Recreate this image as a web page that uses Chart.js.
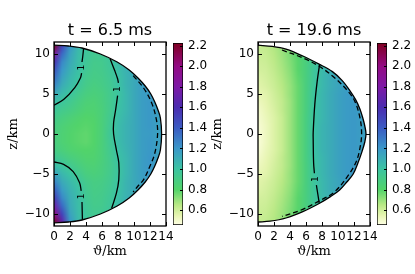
<!DOCTYPE html>
<html>
<head>
<meta charset="utf-8">
<script src="https://cdn.jsdelivr.net/npm/chart.js@4.4.1/dist/chart.umd.min.js"></script>
<style>
  body { margin: 0; background: #fff; }
  #wrap { position: relative; width: 415px; height: 274px; overflow: hidden; }
  canvas { position: absolute; top: 0; }
</style>
</head>
<body>
<div id="wrap">
  <canvas id="cb1" width="42" height="274" style="left:173px"></canvas>
  <canvas id="cb2" width="38" height="274" style="left:377px"></canvas>
  <canvas id="p1" width="200" height="274" style="left:0px"></canvas>
  <canvas id="p2" width="200" height="274" style="left:204px"></canvas>
</div>
<script>
// axes
const xTicks = [0, 2, 4, 6, 8, 10, 12, 14];
const zTicks = [-10, -5, 0, 5, 10];
const cbTicks = [0.6, 0.8, 1.0, 1.2, 1.4, 1.6, 1.8, 2.0, 2.2];
const cbMin = 0.455, cbMax = 2.225;

// colour map
const cmapVals = [0.45, 0.55, 0.65, 0.8, 1.0, 1.2, 1.4, 1.6, 1.8, 2.0, 2.23];
const cmapColors = ['#ffffe5', '#e6f5b0', '#b9e985', '#52d46a', '#3cc4a2', '#3a97c9',
                    '#3b5bc3', '#4b2cb0', '#7e19a6', '#930b84', '#7f0020'];

// heat map grid (columns = heatX, rows = heatZ from top)
const heatX = [0, 1, 2, 3, 4, 5, 6, 7, 8, 9, 10, 11, 12, 13, 14];
const heatZ = [11, 10, 9, 8, 7, 6, 5, 4, 3, 2, 1, 0, -1, -2, -3, -4, -5, -6, -7, -8, -9, -10, -11];

// t = 6.5 ms
const heat1 = [
  [2.2, 1.5, 1.2, 1.06, 0.98, 0.95, 0.96, 1.0, 1.05, 1.1, 1.12, 1.12, 1.12, 1.12, 1.12],
  [1.85, 1.35, 1.15, 1.04, 0.97, 0.94, 0.95, 0.98, 1.04, 1.09, 1.12, 1.13, 1.13, 1.13, 1.13],
  [1.6, 1.25, 1.12, 1.03, 0.96, 0.92, 0.93, 0.97, 1.03, 1.08, 1.12, 1.14, 1.14, 1.14, 1.14],
  [1.45, 1.2, 1.09, 1.02, 0.95, 0.91, 0.92, 0.96, 1.02, 1.08, 1.12, 1.15, 1.15, 1.15, 1.15],
  [1.35, 1.15, 1.06, 1.0, 0.93, 0.9, 0.91, 0.95, 1.01, 1.07, 1.12, 1.16, 1.16, 1.15, 1.15],
  [1.25, 1.1, 1.03, 0.97, 0.91, 0.88, 0.9, 0.94, 1.0, 1.07, 1.12, 1.17, 1.17, 1.15, 1.15],
  [1.12, 1.04, 0.99, 0.93, 0.88, 0.86, 0.88, 0.93, 0.99, 1.06, 1.12, 1.17, 1.18, 1.15, 1.15],
  [1.03, 0.98, 0.94, 0.89, 0.85, 0.84, 0.87, 0.93, 1.0, 1.06, 1.12, 1.17, 1.19, 1.16, 1.15],
  [0.97, 0.93, 0.9, 0.86, 0.83, 0.83, 0.86, 0.93, 1.01, 1.06, 1.12, 1.17, 1.19, 1.16, 1.15],
  [0.92, 0.88, 0.85, 0.82, 0.8, 0.81, 0.86, 0.94, 1.02, 1.07, 1.12, 1.17, 1.19, 1.16, 1.15],
  [0.89, 0.85, 0.82, 0.8, 0.79, 0.8, 0.86, 0.95, 1.03, 1.08, 1.12, 1.17, 1.19, 1.16, 1.15],
  [0.88, 0.84, 0.81, 0.79, 0.78, 0.8, 0.86, 0.96, 1.03, 1.08, 1.12, 1.17, 1.18, 1.16, 1.15],
  [0.88, 0.84, 0.81, 0.79, 0.78, 0.8, 0.86, 0.95, 1.03, 1.08, 1.12, 1.17, 1.19, 1.16, 1.15],
  [0.9, 0.86, 0.83, 0.81, 0.8, 0.81, 0.86, 0.94, 1.02, 1.07, 1.12, 1.17, 1.19, 1.16, 1.15],
  [0.96, 0.92, 0.88, 0.85, 0.82, 0.82, 0.86, 0.93, 1.01, 1.06, 1.12, 1.17, 1.2, 1.16, 1.15],
  [1.04, 0.99, 0.94, 0.89, 0.85, 0.84, 0.87, 0.92, 0.99, 1.06, 1.12, 1.17, 1.2, 1.16, 1.15],
  [1.15, 1.06, 1.0, 0.94, 0.88, 0.86, 0.88, 0.93, 0.99, 1.06, 1.12, 1.17, 1.19, 1.15, 1.15],
  [1.27, 1.12, 1.05, 0.99, 0.92, 0.89, 0.9, 0.94, 1.0, 1.07, 1.12, 1.16, 1.17, 1.15, 1.15],
  [1.4, 1.18, 1.08, 1.02, 0.94, 0.9, 0.91, 0.95, 1.01, 1.07, 1.12, 1.15, 1.15, 1.15, 1.15],
  [1.55, 1.25, 1.1, 1.03, 0.95, 0.91, 0.92, 0.96, 1.02, 1.08, 1.12, 1.14, 1.14, 1.14, 1.14],
  [1.75, 1.35, 1.12, 1.03, 0.96, 0.92, 0.93, 0.97, 1.03, 1.08, 1.12, 1.13, 1.13, 1.13, 1.13],
  [2.0, 1.5, 1.15, 1.04, 0.97, 0.94, 0.95, 0.98, 1.04, 1.09, 1.12, 1.12, 1.12, 1.12, 1.12],
  [2.2, 1.7, 1.2, 1.05, 0.98, 0.95, 0.96, 1.0, 1.05, 1.1, 1.12, 1.12, 1.12, 1.12, 1.12]
];

// t = 19.6 ms
const heat2 = [
  [0.62, 0.63, 0.66, 0.7, 0.74, 0.8, 0.88, 0.96, 1.03, 1.08, 1.12, 1.14, 1.15, 1.15, 1.15],
  [0.61, 0.62, 0.65, 0.69, 0.74, 0.8, 0.88, 0.96, 1.03, 1.08, 1.12, 1.14, 1.15, 1.15, 1.15],
  [0.6, 0.61, 0.64, 0.68, 0.73, 0.79, 0.87, 0.96, 1.04, 1.09, 1.13, 1.15, 1.16, 1.15, 1.15],
  [0.59, 0.6, 0.63, 0.67, 0.72, 0.79, 0.87, 0.97, 1.04, 1.09, 1.13, 1.16, 1.17, 1.16, 1.15],
  [0.57, 0.59, 0.62, 0.66, 0.71, 0.78, 0.87, 0.97, 1.05, 1.1, 1.14, 1.17, 1.18, 1.17, 1.16],
  [0.56, 0.58, 0.61, 0.65, 0.7, 0.77, 0.87, 0.98, 1.05, 1.1, 1.14, 1.17, 1.18, 1.17, 1.16],
  [0.54, 0.56, 0.6, 0.64, 0.7, 0.77, 0.87, 0.99, 1.06, 1.11, 1.15, 1.18, 1.19, 1.17, 1.16],
  [0.52, 0.55, 0.59, 0.63, 0.69, 0.77, 0.87, 0.99, 1.06, 1.11, 1.15, 1.18, 1.19, 1.17, 1.16],
  [0.5, 0.54, 0.58, 0.63, 0.69, 0.77, 0.87, 1.0, 1.06, 1.11, 1.15, 1.18, 1.19, 1.17, 1.16],
  [0.49, 0.53, 0.57, 0.62, 0.69, 0.77, 0.88, 1.0, 1.06, 1.11, 1.15, 1.18, 1.19, 1.17, 1.16],
  [0.48, 0.52, 0.57, 0.62, 0.69, 0.77, 0.88, 1.01, 1.07, 1.11, 1.15, 1.18, 1.19, 1.17, 1.16],
  [0.47, 0.52, 0.57, 0.62, 0.69, 0.77, 0.88, 1.01, 1.07, 1.11, 1.15, 1.18, 1.19, 1.17, 1.16],
  [0.47, 0.52, 0.57, 0.62, 0.69, 0.77, 0.88, 1.01, 1.07, 1.11, 1.15, 1.18, 1.19, 1.17, 1.16],
  [0.48, 0.53, 0.57, 0.62, 0.69, 0.77, 0.88, 1.01, 1.07, 1.11, 1.15, 1.18, 1.19, 1.17, 1.16],
  [0.5, 0.54, 0.58, 0.63, 0.69, 0.77, 0.88, 1.0, 1.06, 1.11, 1.15, 1.18, 1.19, 1.17, 1.16],
  [0.52, 0.55, 0.59, 0.63, 0.69, 0.77, 0.87, 0.99, 1.06, 1.11, 1.15, 1.18, 1.19, 1.17, 1.16],
  [0.54, 0.56, 0.6, 0.64, 0.7, 0.77, 0.87, 0.99, 1.06, 1.11, 1.15, 1.18, 1.19, 1.17, 1.16],
  [0.56, 0.58, 0.61, 0.65, 0.7, 0.77, 0.87, 0.98, 1.05, 1.1, 1.14, 1.17, 1.18, 1.17, 1.16],
  [0.57, 0.59, 0.62, 0.66, 0.71, 0.78, 0.87, 0.97, 1.05, 1.1, 1.14, 1.17, 1.18, 1.17, 1.16],
  [0.59, 0.6, 0.63, 0.67, 0.72, 0.79, 0.87, 0.97, 1.04, 1.09, 1.13, 1.16, 1.17, 1.16, 1.15],
  [0.6, 0.61, 0.64, 0.68, 0.73, 0.79, 0.87, 0.96, 1.04, 1.09, 1.13, 1.15, 1.16, 1.15, 1.15],
  [0.61, 0.62, 0.65, 0.69, 0.74, 0.8, 0.88, 0.96, 1.03, 1.08, 1.12, 1.14, 1.15, 1.15, 1.15],
  [0.62, 0.63, 0.66, 0.7, 0.74, 0.8, 0.88, 0.96, 1.03, 1.08, 1.12, 1.14, 1.15, 1.15, 1.15]
];

// star surface
const bnd1X = [0, 1.8, 3.5, 5.8, 7.9, 9.4, 10.5, 11.4, 12.1, 12.6, 13.0, 13.3, 13.45, 13.3, 13.0, 12.6, 12.1, 11.4, 10.5, 9.4, 7.9, 5.8, 3.5, 1.8, 0];
const bnd1Z = [11.1, 11.0, 10.75, 10.0, 9.0, 8.0, 7.0, 6.0, 5.0, 4.0, 3.0, 2.0, 0, -2.0, -3.0, -4.0, -5.0, -6.0, -7.0, -8.0, -9.0, -10.0, -10.75, -11.0, -11.1];
const bnd2X = [0, 1.8, 3.5, 5.6, 7.7, 9.3, 10.5, 11.5, 12.2, 12.75, 13.1, 13.35, 13.5, 13.35, 13.0, 12.5, 11.9, 11.1, 10.2, 9.1, 7.7, 5.6, 3.5, 1.5, 0];
const bnd2Z = [11.1, 10.95, 10.6, 9.75, 8.7, 7.8, 6.7, 5.4, 4.3, 3.1, 2.0, 1.0, 0, -1.0, -2.2, -3.6, -5.0, -6.0, -7.0, -7.8, -8.65, -9.7, -10.5, -10.9, -11.0];

// contour level 1 (null = gap for label)
const cA1X = [0, 1.2, 2.6, 3.3, 3.45, null, 3.5, 3.6, 3.7];
const cA1Z = [3.6, 4.3, 5.8, 7.0, 7.6, null, 9.0, 9.75, 10.7];
const cB1X = [7.0, 7.6, 7.95, 8.05, null, 7.95, 7.7, 7.45, 7.45, 7.8, 8.1, 8.1, 7.8, 7.2];
const cB1Z = [9.45, 7.9, 6.9, 6.4, null, 4.8, 3.0, 1.4, 0, -2.0, -3.6, -5.7, -7.4, -9.3];
const cC1X = [0, 1.2, 2.4, 3.2, 3.4, null, 3.5, 3.55];
const cC1Z = [-3.5, -3.8, -4.7, -6.1, -7.1, null, -8.5, -10.7];
const c2X = [7.7, 7.4, 7.1, 6.9, 6.9, 6.95, 7.05, null, 7.3, 7.65];
const c2Z = [8.7, 6.6, 3.7, 0.2, -0.7, -3.6, -4.9, null, -6.4, -8.6];

// dashed contour
const dash1X = [9.9, 11.2, 12.2, 12.8, 12.95, 12.6, 12.0, 11.2, 10.5, 9.9];
const dash1Z = [7.3, 5.75, 3.9, 1.8, 0, -2.4, -4.0, -5.7, -6.5, -7.25];
const dash2X = [3.0, 5.5, 7.6, 9.6, 11.2, 12.1, 12.75, 12.95, 12.75, 12.3, 11.4, 9.6, 7.5, 5.4, 3.0];
const dash2Z = [10.5, 9.55, 8.5, 7.0, 5.4, 4.1, 2.0, 0, -1.75, -3.4, -5.0, -7.2, -8.45, -9.5, -10.3];

// contour labels
const lab1X = [3.4, 8.0, 3.4];
const lab1Z = [8.3, 5.6, -7.8];
const lab2X = [7.15];
const lab2Z = [-5.65];

const tickFont = { family: 'DejaVu Sans', size: 12 };

function hexRgb(h) {
  return [parseInt(h.slice(1, 3), 16), parseInt(h.slice(3, 5), 16), parseInt(h.slice(5, 7), 16)];
}

function cmap(v) {
  const n = cmapVals.length;
  if (v <= cmapVals[0]) return hexRgb(cmapColors[0]);
  for (let i = 1; i < n; i++) {
    if (v <= cmapVals[i]) {
      const t = (v - cmapVals[i - 1]) / (cmapVals[i] - cmapVals[i - 1]);
      const a = hexRgb(cmapColors[i - 1]), b = hexRgb(cmapColors[i]);
      return [0, 1, 2].map(k => Math.round(a[k] + (b[k] - a[k]) * t));
    }
  }
  return hexRgb(cmapColors[n - 1]);
}

function makeHeatImage(grid) {
  const rows = grid.length, cols = grid[0].length;
  const off = document.createElement('canvas');
  off.width = cols;
  off.height = rows;
  const octx = off.getContext('2d');
  const img = octx.createImageData(cols, rows);
  grid.forEach((row, j) => row.forEach((v, i) => {
    const c = cmap(v);
    const k = (j * cols + i) * 4;
    img.data[k] = c[0];
    img.data[k + 1] = c[1];
    img.data[k + 2] = c[2];
    img.data[k + 3] = 255;
  }));
  octx.putImageData(img, 0, 0);
  return off;
}

function heatPlugin(grid, bx, bz) {
  const img = makeHeatImage(grid);
  return {
    id: 'heat',
    beforeDatasetsDraw(chart) {
      const { ctx, chartArea: a, scales: { x, y } } = chart;
      ctx.save();
      ctx.beginPath();
      ctx.rect(a.left, a.top, a.width, a.height);
      ctx.clip();
      ctx.beginPath();
      bx.forEach((v, i) => {
        const px = x.getPixelForValue(v), py = y.getPixelForValue(bz[i]);
        if (i === 0) ctx.moveTo(px, py); else ctx.lineTo(px, py);
      });
      ctx.closePath();
      ctx.clip();
      ctx.imageSmoothingEnabled = true;
      const l = x.getPixelForValue(heatX[0] - 0.5);
      const r = x.getPixelForValue(heatX[heatX.length - 1] + 0.5);
      const t = y.getPixelForValue(heatZ[0] + 0.5);
      const b = y.getPixelForValue(heatZ[heatZ.length - 1] - 0.5);
      ctx.drawImage(img, l, t, r - l, b - t);
      ctx.restore();
    }
  };
}

const framePlugin = {
  id: 'frame',
  afterDatasetsDraw(chart) {
    const { ctx, chartArea: a, scales: { x, y } } = chart;
    ctx.save();
    ctx.strokeStyle = '#000';
    ctx.lineWidth = 1;
    ctx.beginPath();
    xTicks.forEach(v => {
      const px = Math.round(x.getPixelForValue(v)) + 0.5;
      ctx.moveTo(px, a.bottom); ctx.lineTo(px, a.bottom - 4);
      ctx.moveTo(px, a.top); ctx.lineTo(px, a.top + 4);
    });
    zTicks.forEach(v => {
      const py = Math.round(y.getPixelForValue(v)) + 0.5;
      ctx.moveTo(a.left, py); ctx.lineTo(a.left + 4, py);
      ctx.moveTo(a.right, py); ctx.lineTo(a.right - 4, py);
    });
    ctx.stroke();
    ctx.lineWidth = 1.3;
    ctx.strokeRect(a.left, a.top, a.width, a.height);
    ctx.restore();
  }
};

function labelPlugin(lx, lz) {
  return {
    id: 'clabels',
    afterDatasetsDraw(chart) {
      const { ctx, scales: { x, y } } = chart;
      ctx.save();
      ctx.font = '9px "DejaVu Sans"';
      ctx.fillStyle = '#000';
      ctx.textAlign = 'center';
      ctx.textBaseline = 'middle';
      lx.forEach((v, i) => {
        ctx.save();
        ctx.translate(x.getPixelForValue(v), y.getPixelForValue(lz[i]));
        ctx.rotate(-Math.PI / 2);
        ctx.fillText('1', 0, 0);
        ctx.restore();
      });
      ctx.restore();
    }
  };
}

function pts(xs, zs) {
  return xs.map((v, i) => ({ x: v, y: zs[i] }));
}

function line(xs, zs, dashed) {
  return {
    data: pts(xs, zs),
    showLine: true,
    borderColor: '#000',
    borderWidth: 1.3,
    borderDash: dashed ? [5, 3] : [],
    pointRadius: 0,
    tension: 0.35,
    spanGaps: false,
    fill: false
  };
}

function panelConfig(title, grid, bx, bz, lines, lx, lz) {
  return {
    type: 'scatter',
    data: { datasets: lines },
    options: {
      responsive: false,
      animation: false,
      events: [],
      layout: { padding: { left: 0, right: 34, top: 0, bottom: 0 } },
      plugins: {
        legend: { display: false },
        tooltip: { enabled: false },
        title: {
          display: true, text: title, color: '#000', fullSize: false,
          font: { family: 'DejaVu Sans', size: 16, weight: 'normal' },
          padding: { top: 21.2, bottom: 1.6 }
        }
      },
      scales: {
        x: {
          type: 'linear', min: 0, max: 14,
          afterBuildTicks: s => { s.ticks = xTicks.map(v => ({ value: v })); },
          afterFit: s => { s.height = 48; },
          grid: { display: false, drawTicks: false },
          border: { display: false },
          ticks: { padding: 3.5, font: tickFont, color: '#000', maxRotation: 0, autoSkip: false },
          title: {
            display: true, text: 'ϑ/km', color: '#000',
            font: { family: 'DejaVu Serif', size: 13 },
            padding: { top: 0, bottom: 15 }
          }
        },
        y: {
          type: 'linear', min: -11.5, max: 11.5,
          afterBuildTicks: s => { s.ticks = zTicks.map(v => ({ value: v })); },
          afterFit: s => { s.width = 54; },
          grid: { display: false, drawTicks: false },
          border: { display: false },
          ticks: {
            padding: 4, font: tickFont, color: '#000',
            callback: v => (v < 0 ? '\u2212' + Math.abs(v) : String(v))
          },
          title: {
            display: true, text: 'z/km', color: '#000',
            font: { family: 'DejaVu Serif', size: 13 },
            padding: { top: 6, bottom: 0 }
          }
        }
      }
    },
    plugins: [heatPlugin(grid, bx, bz), framePlugin, labelPlugin(lx, lz)]
  };
}

function cbGradient(chart) {
  if (!chart.chartArea) return '#ffffff';
  const y = chart.scales.y;
  const g = chart.ctx.createLinearGradient(0, y.getPixelForValue(cbMin), 0, y.getPixelForValue(cbMax));
  cmapVals.forEach((v, i) => {
    const f = Math.min(1, Math.max(0, (v - cbMin) / (cbMax - cbMin)));
    g.addColorStop(f, cmapColors[i]);
  });
  return g;
}

const cbTickPlugin = {
  id: 'cbticks',
  afterDatasetsDraw(chart) {
    const { ctx, chartArea: a, scales: { y } } = chart;
    ctx.save();
    ctx.strokeStyle = '#000';
    ctx.lineWidth = 1;
    ctx.beginPath();
    cbTicks.forEach(v => {
      const py = Math.round(y.getPixelForValue(v)) + 0.5;
      ctx.moveTo(a.right, py); ctx.lineTo(a.right - 3, py);
    });
    ctx.stroke();
    ctx.restore();
  }
};

function cbConfig(axisWidth) {
  return {
    type: 'bar',
    data: {
      labels: ['cb'],
      datasets: [{
        data: [[cbMin, cbMax]],
        backgroundColor: ctx => cbGradient(ctx.chart),
        borderColor: '#000',
        borderWidth: 1,
        borderSkipped: false,
        barPercentage: 1,
        categoryPercentage: 1
      }]
    },
    options: {
      responsive: false,
      animation: false,
      events: [],
      layout: { padding: { left: 0, right: 0, top: 43, bottom: 49 } },
      plugins: { legend: { display: false }, tooltip: { enabled: false } },
      scales: {
        x: { display: false },
        y: {
          position: 'right', min: cbMin, max: cbMax,
          afterBuildTicks: s => { s.ticks = cbTicks.map(v => ({ value: v })); },
          afterFit: s => { s.width = axisWidth; },
          grid: { display: false, drawTicks: false },
          border: { display: false },
          ticks: { padding: 5, font: tickFont, color: '#000', callback: v => v.toFixed(1) }
        }
      }
    },
    plugins: [cbTickPlugin]
  };
}

new Chart(document.getElementById('p1'), panelConfig('t = 6.5 ms', heat1, bnd1X, bnd1Z, [
  line(bnd1X, bnd1Z, false),
  line(cA1X, cA1Z, false),
  line(cB1X, cB1Z, false),
  line(cC1X, cC1Z, false),
  line(dash1X, dash1Z, true)
], lab1X, lab1Z));

new Chart(document.getElementById('p2'), panelConfig('t = 19.6 ms', heat2, bnd2X, bnd2Z, [
  line(bnd2X, bnd2Z, false),
  line(c2X, c2Z, false),
  line(dash2X, dash2Z, true)
], lab2X, lab2Z));

new Chart(document.getElementById('cb1'), cbConfig(32));
new Chart(document.getElementById('cb2'), cbConfig(28));
</script>
</body>
</html>
